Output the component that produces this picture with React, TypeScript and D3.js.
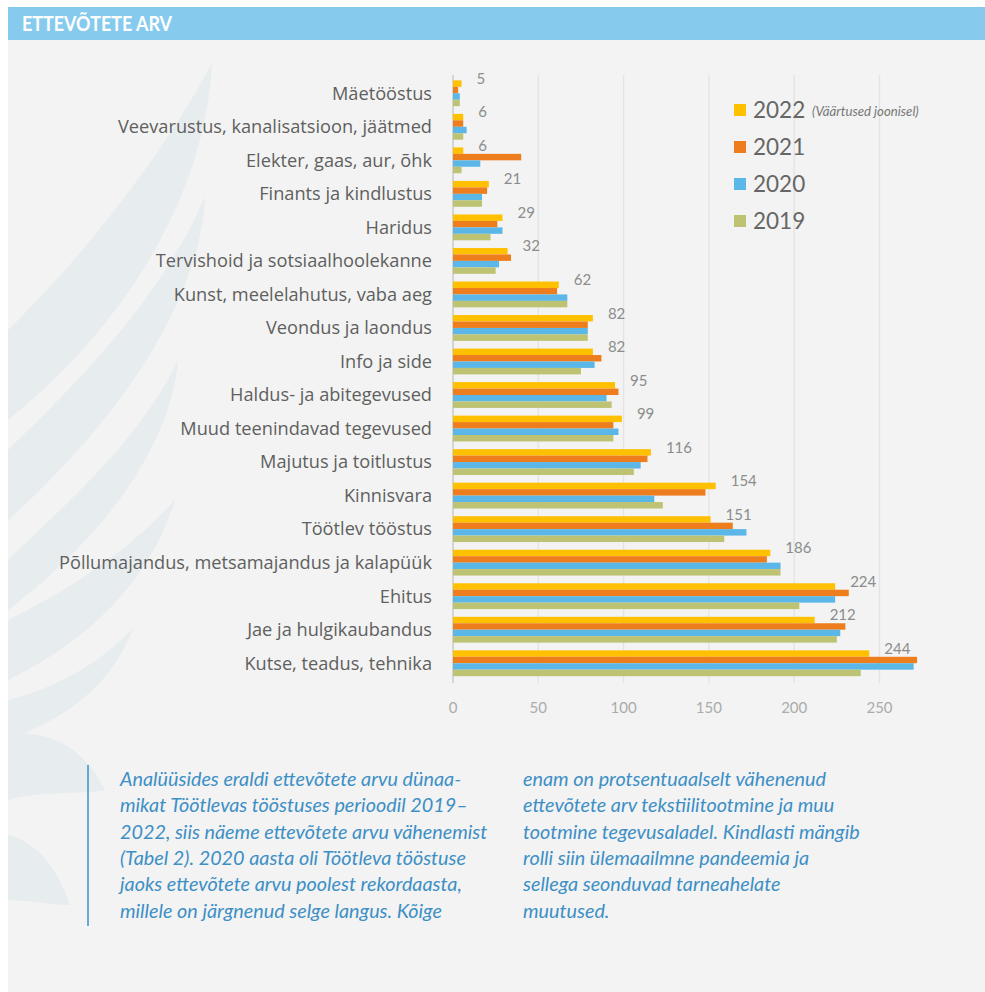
import React from 'react'
import * as d3 from 'd3'

const categories = [
  'Mäetööstus',
  'Veevarustus, kanalisatsioon, jäätmed',
  'Elekter, gaas, aur, õhk',
  'Finants ja kindlustus',
  'Haridus',
  'Tervishoid ja sotsiaalhoolekanne',
  'Kunst, meelelahutus, vaba aeg',
  'Veondus ja laondus',
  'Info ja side',
  'Haldus- ja abitegevused',
  'Muud teenindavad tegevused',
  'Majutus ja toitlustus',
  'Kinnisvara',
  'Töötlev tööstus',
  'Põllumajandus, metsamajandus ja kalapüük',
  'Ehitus',
  'Jae ja hulgikaubandus',
  'Kutse, teadus, tehnika',
]

const years = ['2022', '2021', '2020', '2019']

const values2022 = [5, 6, 6, 21, 29, 32, 62, 82, 82, 95, 99, 116, 154, 151, 186, 224, 212, 244]
const values2021 = [3, 6, 40, 20, 26, 34, 61, 79, 87, 97, 94, 114, 148, 164, 184, 232, 230, 272]
const values2020 = [4, 8, 16, 17, 29, 27, 67, 79, 83, 90, 97, 110, 118, 172, 192, 224, 227, 270]
const values2019 = [4, 6, 5, 17, 22, 25, 67, 79, 75, 93, 94, 106, 123, 159, 192, 203, 225, 239]

const seriesValues: Record<string, number[]> = {
  '2022': values2022,
  '2021': values2021,
  '2020': values2020,
  '2019': values2019,
}

const colors: Record<string, string> = {
  '2022': '#FFC000',
  '2021': '#EE7E1D',
  '2020': '#5BB7E8',
  '2019': '#BEC373',
}

const xTicks = [0, 50, 100, 150, 200, 250]

const noteLeft = [
  'Analüüsides eraldi ettevõtete arvu dünaa-',
  'mikat Töötlevas tööstuses perioodil 2019–',
  '2022, siis näeme ettevõtete arvu vähenemist',
  '(Tabel 2). 2020 aasta oli Töötleva tööstuse',
  'jaoks ettevõtete arvu poolest rekordaasta,',
  'millele on järgnenud selge langus. Kõige',
]
const noteRight = [
  'enam on protsentuaalselt vähenenud',
  'ettevõtete arv tekstiilitootmine ja muu',
  'tootmine tegevusaladel. Kindlasti mängib',
  'rolli siin ülemaailmne pandeemia ja',
  'sellega seonduvad tarneahelate',
  'muutused.',
]

const W = 985
const H = 992
const FONT = 'Lato, "Open Sans", sans-serif'
const WIDE = '"Open Sans", Lato, sans-serif'

// faint feather shapes in the background, left side
const petals = [
  'M212,63 C205,200 120,330 8,420 L8,330 C80,260 160,160 212,63 Z',
  'M205,197 C200,300 120,420 8,520 L8,450 C80,380 160,300 205,197 Z',
  'M178,360 C170,450 100,540 8,610 L8,560 C70,500 140,440 178,360 Z',
  'M175,500 C150,580 90,640 8,680 L8,620 C70,590 130,550 175,500 Z',
  'M133,628 C110,690 60,720 8,740 L8,700 C50,690 100,665 133,628 Z',
  'M105,790 C80,740 40,730 8,735 L8,800 C40,790 80,795 105,790 Z',
  'M70,905 C55,860 30,840 8,835 L8,900 C30,900 50,905 70,905 Z',
]

function BarChart() {
  const x = d3.scaleLinear().domain([0, 250]).range([453, 879.5])
  const y = d3.scaleBand<string>()
    .domain(categories)
    .range([76.5, 680])
    .paddingInner(0.23)
    .paddingOuter(0.115)
  const yInner = d3.scaleBand<string>().domain(years).range([0, y.bandwidth()])

  return (
    <g>
      {/* grid */}
      {xTicks.map(t => (
        <line key={t} x1={x(t)} x2={x(t)} y1={75} y2={683}
          stroke={t === 0 ? '#d4d4d4' : '#e3e3e3'} strokeWidth={t === 0 ? 2 : 1.3} />
      ))}
      {xTicks.map(t => (
        <text key={'t' + t} x={x(t)} y={713} textAnchor="middle" fontSize={15}
          fill="#ababab" fontFamily={FONT}>{t}</text>
      ))}

      {categories.map((c, i) => {
        const y0 = y(c) as number
        return (
          <g key={c}>
            <text x={432} y={y0 + y.bandwidth() / 2} dy="0.35em" textAnchor="end"
              fontSize={18.2} fill="#5f5f5f" fontFamily={WIDE}>{c}</text>
            {years.map(yr => (
              <rect key={yr} x={x(0)} y={y0 + (yInner(yr) as number)}
                width={x(seriesValues[yr][i]) - x(0)} height={yInner.bandwidth()}
                fill={colors[yr]} />
            ))}
            <text x={x(values2022[i]) + 15} y={y0 + 3.5} fontSize={15}
              fill="#8c8c8c" fontFamily={FONT}>{values2022[i]}</text>
          </g>
        )
      })}

      {/* legend */}
      {years.map((yr, i) => (
        <g key={yr} transform={`translate(734, ${110 + i * 37})`}>
          <rect x={0} y={-6} width={12} height={12} fill={colors[yr]} />
          <text x={19} y={0} dy="0.36em" fontSize={22.5} fill="#666" fontFamily={FONT}>{yr}</text>
          {i === 0 && (
            <text x={78} y={1} dy="0.36em" fontSize={13.2} fontStyle="italic" fill="#777"
              fontFamily={FONT}>(Väärtused joonisel)</text>
          )}
        </g>
      ))}
    </g>
  )
}

export default function App() {
  return (
    <svg width={W} height={H} style={{ position: 'absolute', left: 0, top: 0, display: 'block' }}>
      <rect x={0} y={0} width={W} height={H} fill="#ffffff" />
      <rect x={8} y={40} width={W - 8} height={H - 40} fill="#f2f3f2" />
      <g fill="#e6ebef" opacity={0.85}>
        {petals.map((d, i) => <path key={i} d={d} />)}
      </g>
      <rect x={8} y={7} width={W - 8} height={33} fill="#86CAEE" />
      <text x={22} y={31} fontSize={20} fontWeight="bold" fill="#ffffff" fontFamily={FONT}
        textLength={150} lengthAdjust="spacingAndGlyphs">ETTEVÕTETE ARV</text>

      <BarChart />

      <line x1={88} x2={88} y1={765} y2={926} stroke="#3a8fc8" strokeWidth={1.5} />
      {noteLeft.map((t, i) => (
        <text key={'l' + i} x={120} y={786 + i * 26.3} fontSize={19.8} fontStyle="italic"
          fill="#3d8fc6" fontFamily={FONT}>{t}</text>
      ))}
      {noteRight.map((t, i) => (
        <text key={'r' + i} x={523} y={786 + i * 26.3} fontSize={19.8} fontStyle="italic"
          fill="#3d8fc6" fontFamily={FONT}>{t}</text>
      ))}
    </svg>
  )
}
